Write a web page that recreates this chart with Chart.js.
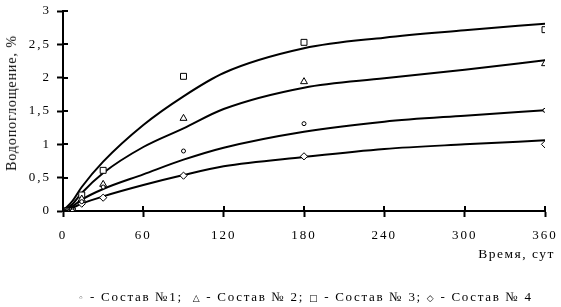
<!DOCTYPE html>
<html>
<head>
<meta charset="utf-8">
<script src="https://cdn.jsdelivr.net/npm/chart.js"></script>
<style>
  html, body { margin: 0; padding: 0; background: #fff; }
  #wrap { position: relative; width: 561px; height: 307px; }
  #chart { position: absolute; left: 0; top: 0; }
  .lbl { position: absolute; font-family: "Liberation Serif", serif; font-size: 13px; color: #000; white-space: nowrap; }
  #ytitle { left: 12px; top: 103px; font-size: 14px; transform: translate(-50%, -50%) rotate(-90deg); letter-spacing: 0.9px; }
  #xtitle { right: 6px; top: 246px; font-size: 13.5px; letter-spacing: 1.5px; }
  #legend { left: 0; width: 561px; top: 289px; padding-left: 50px; box-sizing: border-box; text-align: center; letter-spacing: 1.7px; font-size: 13px; }
  #legend .s { font-family: "DejaVu Sans", sans-serif; font-size: 9px; }
</style>
</head>
<body>
<div id="wrap">
  <canvas id="chart" width="561" height="307"></canvas>
  <div class="lbl" id="ytitle">Водопоглощение, %</div>
  <div class="lbl" id="xtitle">Время, сут</div>
  <div class="lbl" id="legend"><span class="s">&#9702;</span> - Состав №1;&nbsp; <span class="s">&#9651;</span> - Состав № 2; <span class="s">&#9633;</span> - Состав № 3; <span class="s">&#9671;</span> - Состав № 4</div>
</div>
<script>
// measured days
const days = [0, 3, 7, 14, 30, 90, 180, 360];
const sostav1 = [0, 0, 0, 0.14, 0.36, 0.90, 1.31, 1.51];
const sostav2 = [0, 0, 0, 0.18, 0.40, 1.39, 1.94, 2.21];
const sostav3 = [0, 0, 0, 0.24, 0.61, 2.02, 2.53, 2.72];
const sostav4 = [0, 0, 0, 0.11, 0.20, 0.53, 0.82, 1.00];

// trend curves
const trendDays = [0, 7, 14, 30, 60, 90, 120, 180, 240, 300, 360];
const trend1 = [0, 0.07, 0.17, 0.33, 0.55, 0.77, 0.95, 1.19, 1.34, 1.43, 1.51];
const trend2 = [0, 0.10, 0.27, 0.57, 0.96, 1.24, 1.53, 1.85, 1.99, 2.12, 2.26];
const trend3 = [0, 0.15, 0.36, 0.74, 1.29, 1.72, 2.07, 2.44, 2.60, 2.71, 2.81];
const trend4 = [0, 0.05, 0.11, 0.22, 0.39, 0.54, 0.67, 0.81, 0.93, 1.00, 1.06];

const xTicks = [0, 60, 120, 180, 240, 300, 360];
const yTicks = [0, 0.5, 1, 1.5, 2, 2.5, 3];

const pts = (xs, ys) => xs.map((x, i) => ({ x, y: ys[i] }));

function trendSet(ys) {
    return {
        data: pts(trendDays, ys),
        showLine: true,
        borderColor: '#000',
        borderWidth: 2,
        pointRadius: 0,
        cubicInterpolationMode: 'monotone',
        order: 2
    };
}

function markSet(ys, style, r) {
    return {
        data: pts(days, ys),
        showLine: false,
        pointStyle: style,
        pointRadius: r,
        borderColor: '#000',
        backgroundColor: '#fff',
        borderWidth: 1,
        order: 1
    };
}

// ticks crossing the axis lines
const crossTicks = {
    id: 'crossTicks',
    afterDraw(chart) {
        const ctx = chart.ctx;
        const xs = chart.scales.x, ys = chart.scales.y;
        ctx.save();
        ctx.strokeStyle = '#000';
        ctx.lineWidth = 2;
        ctx.beginPath();
        xTicks.forEach(v => {
            const px = Math.round(xs.getPixelForValue(v));
            ctx.moveTo(px, ys.bottom - 5);
            ctx.lineTo(px, ys.bottom);
        });
        yTicks.forEach(v => {
            const py = Math.round(ys.getPixelForValue(v));
            ctx.moveTo(xs.left, py);
            ctx.lineTo(xs.left + 5, py);
        });
        ctx.stroke();
        ctx.restore();
    }
};

const spacing = {
    id: 'spacing',
    beforeUpdate(chart) { chart.ctx.letterSpacing = '2px'; },
    beforeDraw(chart) { chart.ctx.letterSpacing = '2px'; }
};

const axisCommon = {
    border: { display: true, color: '#000', width: 2 },
    grid: { drawOnChartArea: false, drawTicks: true, tickLength: 6, tickColor: '#000', tickWidth: 2 },
};

new Chart(document.getElementById('chart'), {
    type: 'scatter',
    data: {
        datasets: [
            markSet(sostav1, 'circle', 2),
            markSet(sostav2, 'triangle', 4),
            markSet(sostav3, 'rect', 4.2),
            markSet(sostav4, 'rectRot', 3.6),
            trendSet(trend1),
            trendSet(trend2),
            trendSet(trend3),
            trendSet(trend4)
        ]
    },
    options: {
        responsive: false,
        animation: false,
        layout: { padding: { left: 0, right: 16, top: 11, bottom: 0 } },
        plugins: { legend: { display: false }, tooltip: { enabled: false } },
        scales: {
            x: {
                type: 'linear', min: 0, max: 360,
                ...axisCommon,
                afterBuildTicks: s => { s.ticks = xTicks.map(v => ({ value: v })); },
                afterFit: s => { s.height = 96; s.paddingLeft = 0; s.paddingRight = 0; },
                ticks: { color: '#000', padding: 11, maxRotation: 0, font: { family: 'Liberation Serif', size: 13 } }
            },
            y: {
                type: 'linear', min: 0, max: 3,
                ...axisCommon,
                afterBuildTicks: s => { s.ticks = yTicks.map(v => ({ value: v })); },
                afterFit: s => { s.width = 63; s.paddingTop = 0; s.paddingBottom = 0; },
                ticks: {
                    color: '#000', padding: 6,
                    font: { family: 'Liberation Serif', size: 13 },
                    callback: v => String(v).replace('.', ',')
                }
            }
        }
    },
    plugins: [crossTicks, spacing]
});
</script>
</body>
</html>
